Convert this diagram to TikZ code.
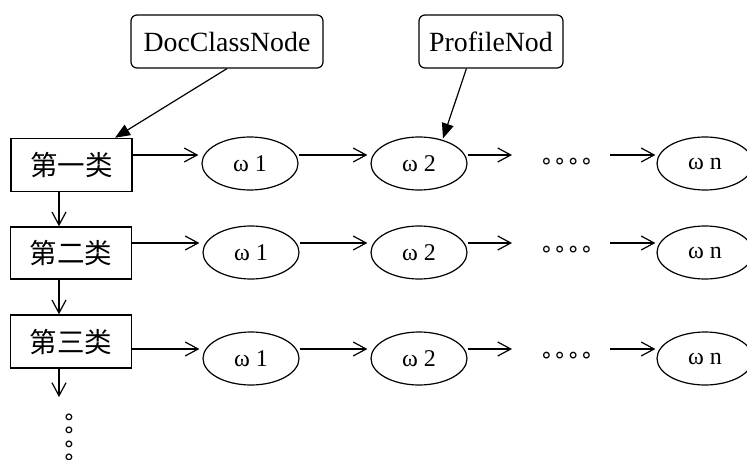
\documentclass[tikz,border=0pt]{standalone}
\usepackage{fontspec}
\setmainfont{Liberation Serif}
\newfontfamily\cjk{Noto Sans CJK SC}
\newfontfamily\symb{DejaVu Sans}
\usetikzlibrary{arrows.meta,shapes.geometric,calc}

\tikzset{
  classbox/.style={draw, line width=1.5pt, minimum width=121pt, minimum height=53pt,
    inner sep=0pt, font=\cjk\fontsize{27.5}{30}\selectfont},
  wnode/.style={draw, ellipse, line width=1.2pt, minimum width=96pt, minimum height=53pt,
    inner sep=0pt, font=\fontsize{24}{28}\selectfont},
  tagbox/.style={draw, rounded corners=6pt, line width=1.2pt, minimum height=53pt,
    inner sep=0pt, font=\fontsize{27.8}{30}\selectfont},
  arr/.style={-{Straight Barb[length=13pt,width=14pt,line width=1.2pt]}, line width=1.2pt},
  ptr/.style={-{Triangle[length=15pt,width=12pt]}, line width=1.2pt},
  ringdots/.style={inner sep=0pt, font=\symb\fontsize{22}{22}\selectfont},
}
\newcommand\fourrings{\makebox[13.3pt]{∘}\makebox[13.3pt]{∘}\makebox[13.3pt]{∘}\makebox[13.3pt]{∘}}
\newcommand\wlabel[1]{\raisebox{-6.5pt}{#1}}

\begin{document}
\begin{tikzpicture}[x=1pt,y=-1pt]
\useasboundingbox (0,0) rectangle (747,460);

% top labels
\node[tagbox, minimum width=192pt] (doc)  at (227,41.5) {\raisebox{-4.5pt}{DocClassNode}};
\node[tagbox, minimum width=144pt] (prof) at (491,41.5) {\raisebox{-4.5pt}{ProfileNod}};

% class boxes
\node[classbox] (c1) at (71.5,165) {第一类};
\node[classbox, minimum height=52pt] (c2) at (71,253) {第二类};
\node[classbox] (c3) at (71,341.5) {第三类};

% omega chains
\node[wnode] (w11) at (250,163.5) {\wlabel{ω 1}};
\node[wnode] (w21) at (419,163.5) {\wlabel{ω 2}};
\node[wnode] (wn1) at (705,163.5) {\wlabel{ω n}};
\node[wnode] (w12) at (251,252.5) {\wlabel{ω 1}};
\node[wnode] (w22) at (419,252.5) {\wlabel{ω 2}};
\node[wnode] (wn2) at (705,252.5) {\wlabel{ω n}};
\node[wnode] (w13) at (251,358.5) {\wlabel{ω 1}};
\node[wnode] (w23) at (419,358.5) {\wlabel{ω 2}};
\node[wnode] (wn3) at (705,358.5) {\wlabel{ω n}};

% arrow levels
\coordinate (y1) at (0,155);
\coordinate (y2) at (0,243);
\coordinate (y3) at (0,349);

% ellipsis between omega 2 and omega n
\node[ringdots] (d1) at (566.5,163) {\fourrings};
\node[ringdots] (d2) at (566.5,251) {\fourrings};
\node[ringdots] (d3) at (566.5,357) {\fourrings};

\foreach \r in {1,2,3} {
  \coordinate (e\r) at (512,0);
  \coordinate (s\r) at (610,0);
  \draw[arr] (c\r.east |- y\r) -- ([xshift=-3pt]w1\r.west |- y\r);
  \draw[arr] (w1\r.east |- y\r) -- ([xshift=-3pt]w2\r.west |- y\r);
  \draw[arr] (w2\r.east |- y\r) -- (e\r |- y\r);
  \draw[arr] (s\r |- y\r) -- ([xshift=-1pt]wn\r.west |- y\r);
}

% vertical chain of classes
\coordinate (vx) at (59,0);
\coordinate (vend) at (59,397);
\draw[arr] (c1.south -| vx) -- (c2.north -| vx);
\draw[arr] (c2.south -| vx) -- (c3.north -| vx);
\draw[arr] (c3.south -| vx) -- (vend);
\node[ringdots, rotate=-90] (vd) at (68,437.5) {\fourrings};

% pointers from the top labels
\draw[ptr] (doc.south) -- ($(c1.north)+(43.5,0)$);
\draw[ptr] ($(prof.south west)+(48,0)$) -- ($(w21.north)+(24,2)$);
\end{tikzpicture}
\end{document}
